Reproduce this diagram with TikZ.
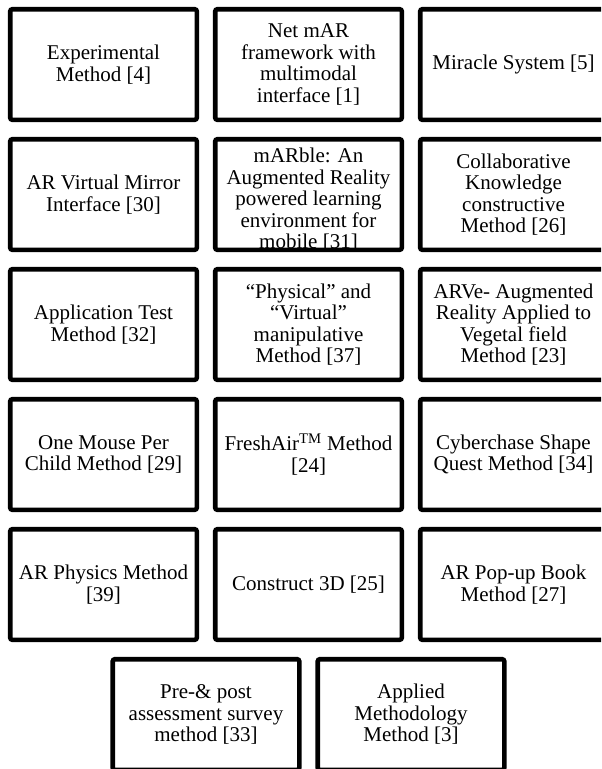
\documentclass[tikz,border=0pt]{standalone}
\usepackage{fontspec}
\setmainfont{Liberation Serif}
\usepackage{tikz}

\tikzset{
  boxtext/.style={inner sep=1pt, align=center,
    font=\fontsize{15.75}{16.1}\selectfont},
  methodbox/.style={boxtext, draw, line width=3.4pt, rounded corners=1.5pt,
    minimum width=139.9pt, minimum height=82.9pt}
}

\begin{document}
\begin{tikzpicture}[x=0.75pt,y=0.75pt,yscale=-1,xscale=1]
\useasboundingbox (0,0) rectangle (601,769);
\clip (0,0) rectangle (601,769);

%Row 1
\node [methodbox] (expmethod) at (103.5,64.5) {Experimental\\Method [4]};
\node [methodbox] (netmar) at (308.5,64.5) {Net mAR\\framework with\\multimodal\\interface [1]};
\node [methodbox] (miracle) at (513.5,64.5) {Miracle System [5]};

%Row 2
\node [methodbox] (mirror) at (103.5,194.5) {AR Virtual Mirror\\Interface [30]};
% text runs over the box, border goes on top
\node [boxtext] (marbletext) at (308.5,200) {mARble: An\\Augmented Reality\\powered learning\\environment for\\mobile [31]};
\node [methodbox] (marble) at (308.5,194.5) {};
\node [methodbox] (collab) at (513.5,194.5) {Collaborative\\Knowledge\\constructive\\Method [26]};

%Row 3
\node [methodbox] (apptest) at (103.5,324.5) {Application Test\\Method [32]};
\node [methodbox] (physvirt) at (308.5,324.5) {“Physical” and\\“Virtual”\\manipulative\\Method [37]};
\node [methodbox] (arve) at (513.5,324.5) {ARVe- Augmented\\Reality Applied to\\Vegetal field\\Method [23]};

%Row 4
\node [methodbox] (mouse) at (103.5,454.5) {One Mouse Per\\Child Method [29]};
\node [methodbox] (freshair) at (308.5,454.5) {FreshAir\textsuperscript{TM} Method\\{[24]}};
\node [methodbox] (cyberchase) at (513.5,454.5) {Cyberchase Shape\\Quest Method [34]};

%Row 5
\node [methodbox] (arphysics) at (103.5,584.5) {AR Physics Method\\{[39]}};
\node [methodbox] (construct) at (308.5,584.5) {Construct 3D [25]};
\node [methodbox] (popup) at (513.5,584.5) {AR Pop-up Book\\Method [27]};

%Row 6
\node [methodbox] (prepost) at (206,714.5) {Pre-\& post\\assessment survey\\method [33]};
\node [methodbox] (applied) at (411,714.5) {Applied\\Methodology\\Method [3]};

\end{tikzpicture}
\end{document}
